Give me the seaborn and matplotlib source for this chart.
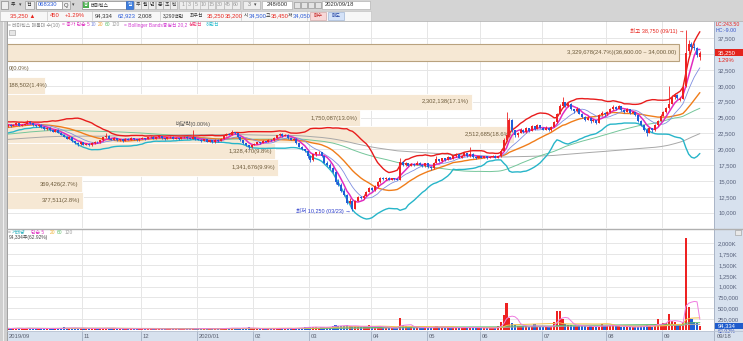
import numpy as np
import pandas as pd
import matplotlib
matplotlib.use("Agg")
import matplotlib.pyplot as plt
import seaborn as sns
from matplotlib import font_manager as fm
from matplotlib.patches import Rectangle
from matplotlib.lines import Line2D
from matplotlib.transforms import blended_transform_factory
from matplotlib.ticker import FixedLocator, FuncFormatter

# ---------------------------------------------------------------- data
holidays = ["2019-10-03", "2019-10-09", "2019-12-25", "2019-12-31", "2020-01-01",
            "2020-01-24", "2020-01-27", "2020-04-15", "2020-04-30", "2020-05-01",
            "2020-05-05", "2020-08-17"]

opens = [
    23700, 23850, 23650, 23900, 24100, 23750,
    23900, 24000, 24350, 24100, 23800, 23600, 23900, 23500, 23200, 23400, 23000, 22800, 23100, 22600, 22300, 22000, 21700, 21900, 21300, 21000, 20800,
    21100, 20700, 20900, 20600, 21000, 21200, 21100, 21400, 21900, 22100, 21700, 21500, 21800, 21400, 21600, 21300, 21700, 21500, 21800, 21600, 21400,
    21700, 21800, 21600, 21900, 22000, 21700, 21900, 22100, 21800, 21600, 21900, 22000, 21700, 21800, 21600, 21900, 22000, 21800, 21700, 21900,
    21600, 21500, 21300, 21600, 21200, 21400, 21100, 21500, 21300, 21700, 22100, 22400, 22300, 22700, 22500, 21900, 21400, 21000, 20600, 20300,
    20700, 20900, 21100, 21000, 21300, 21200, 21500, 21400, 21800, 22200, 22400, 22100, 22300, 21800, 21500, 21700, 21000, 20400, 20000, 19700,
    18900, 18300, 19200, 19500, 19600, 18900, 17900, 17600, 17100, 16400, 14900, 14400, 13500, 12800, 11600, 11900, 10600, 11900, 12400, 12300, 12700, 13300,
    13900, 13600, 14200, 14800, 15400, 15300, 15500, 15200, 15400, 15300, 15200, 18000, 17500, 17800, 17400, 17700, 17500, 17900, 17600, 17300,
    17800, 17200, 17000, 17900, 18400, 18100, 18600, 18300, 18800, 18500, 18900, 19200, 18700, 19000, 19400, 18900, 19300, 18800, 18600,
    18900, 18700, 18900, 18600, 18800, 19000, 18700, 18900, 19800, 21400, 22300, 24600, 23000, 22200, 22600, 23100, 22700, 23300, 22900, 23600, 23200, 23800,
    23400, 23100, 23400, 23000, 23500, 24300, 25600, 26900, 27400, 26800, 27200, 26300, 26000, 26400, 25600, 25100, 24700, 25000, 24400, 24600, 24200, 25400, 25800,
    25500, 25900, 26300, 26700, 26400, 26800, 26200, 25900, 26300, 25700, 25900, 25400, 24500, 23800, 23100, 22600, 23300, 23000, 23800, 24500,
    25300, 25900, 26500, 27200, 28200, 28600, 27800, 28000, 30000, 35500, 36600, 36100, 36000, 34500,
]
highs = [
    24000, 23950, 24050, 24300, 24150, 24000,
    24200, 24550, 24400, 24150, 23900, 24000, 23950, 23600, 23550, 23450, 23100, 23250, 23150, 22700, 22350, 22050, 22050, 21950, 21350, 21100, 21200,
    21150, 21000, 20950, 21100, 21300, 21250, 21500, 22000, 22600, 22200, 21800, 21900, 21850, 21700, 21650, 21800, 21750, 21900, 21850, 21650, 21800,
    21900, 21850, 22000, 22100, 22050, 22000, 22200, 22150, 21850, 22000, 22100, 22050, 21900, 21850, 22000, 22100, 22050, 21850, 23000, 21950,
    21700, 21550, 21700, 21650, 21500, 21450, 21600, 21550, 21800, 22200, 22500, 22500, 23000, 22800, 22550, 21950, 21450, 21050, 20700, 20800,
    21000, 21200, 21150, 21400, 21350, 21600, 21550, 21900, 22300, 22600, 22500, 22400, 22350, 21850, 21800, 21750, 21050, 20500, 20100, 19750,
    19000, 19300, 19600, 19700, 19650, 18950, 18200, 17800, 17200, 16500, 15300, 14700, 13900, 12900, 12300, 12000, 12000, 12600, 12700, 12900, 13500, 14100,
    14000, 14400, 15000, 15700, 15600, 15700, 15600, 15500, 15450, 15400, 18600, 18200, 18000, 17900, 17900, 17800, 18100, 18000, 17700, 17900,
    17850, 17300, 18000, 18900, 18500, 18700, 18650, 18900, 18850, 19000, 19400, 19250, 19100, 19600, 19450, 20400, 19350, 18900, 19000,
    18950, 19000, 18950, 18900, 19100, 19050, 19000, 20000, 21800, 25900, 25000, 24800, 23100, 22800, 23300, 23200, 23500, 23350, 23800, 23700, 24000, 23850,
    23450, 23600, 23450, 23700, 24500, 25800, 27200, 28300, 27500, 27500, 27300, 26400, 26600, 26450, 25700, 25200, 25200, 25050, 24800, 24700, 25600, 26000, 25900,
    26100, 26500, 27000, 26800, 27000, 26850, 26300, 26500, 26350, 26100, 25950, 25450, 24600, 23900, 23300, 23500, 23400, 24000, 24700, 25500,
    26100, 26700, 30000, 28500, 28900, 28700, 28300, 30300, 38750, 37200, 37000, 36700, 36200, 35450,
]
lows = [
    23550, 23500, 23600, 23850, 23650, 23600,
    23800, 23950, 24000, 23700, 23450, 23550, 23400, 23000, 23100, 22900, 22700, 22750, 22500, 22200, 21900, 21600, 21650, 21200, 20900, 20450, 20700,
    20600, 20650, 20500, 20550, 20900, 21000, 21050, 21350, 21850, 21600, 21400, 21450, 21300, 21350, 21200, 21250, 21400, 21450, 21500, 21300, 21350,
    21600, 21500, 21550, 21850, 21600, 21650, 21850, 21700, 21500, 21550, 21850, 21600, 21650, 21500, 21550, 21850, 21700, 21600, 21650, 21500,
    21400, 21200, 21250, 21100, 21150, 21000, 21050, 21200, 21250, 21650, 22050, 22200, 22250, 22400, 21800, 21300, 20900, 20500, 20000, 20250,
    20600, 20850, 20900, 20950, 21100, 21150, 21300, 21350, 21750, 22150, 22000, 22050, 21700, 21400, 21450, 20900, 20300, 19900, 19600, 18700,
    18000, 18200, 19000, 19200, 18800, 17800, 17400, 16900, 16200, 14600, 14200, 13300, 12600, 11400, 11300, 10250, 10600, 11800, 12100, 12200, 12600, 13200,
    13400, 13500, 14100, 14700, 15100, 15200, 15100, 15100, 15200, 15100, 15150, 17300, 17400, 17300, 17350, 17400, 17450, 17500, 17200, 17250,
    17100, 16800, 16950, 17850, 18000, 18050, 18200, 18250, 18400, 18450, 18850, 18600, 18650, 18950, 18800, 18850, 18700, 18500, 18550,
    18600, 18650, 18500, 18550, 18750, 18600, 18650, 18850, 19700, 21300, 22000, 22800, 22000, 22000, 22500, 22600, 22650, 22800, 22850, 23100, 23150, 23300,
    23000, 23050, 22900, 22950, 23450, 24200, 25500, 26700, 26600, 26700, 26200, 25800, 25900, 25500, 25000, 24500, 24650, 24200, 24300, 24000, 24150, 25300, 25300,
    25400, 25800, 26200, 26200, 26300, 26000, 25700, 25850, 25600, 25650, 25200, 24300, 23600, 22900, 22100, 22500, 22800, 22950, 23700, 24400,
    25200, 25800, 26400, 27100, 28000, 27900, 27600, 27900, 29800, 35000, 35800, 35600, 34600, 34050,
]
closes = [
    23800, 23650, 23900, 24100, 23750, 23900,
    24000, 24350, 24100, 23800, 23600, 23900, 23500, 23200, 23400, 23000, 22800, 23100, 22600, 22300, 22000, 21700, 21900, 21300, 21000, 20800, 21100,
    20700, 20900, 20600, 21000, 21200, 21100, 21400, 21900, 22100, 21700, 21500, 21800, 21400, 21600, 21300, 21700, 21500, 21800, 21600, 21400, 21700,
    21800, 21600, 21900, 22000, 21700, 21900, 22100, 21800, 21600, 21900, 22000, 21700, 21800, 21600, 21900, 22000, 21800, 21700, 21900, 21600,
    21500, 21300, 21600, 21200, 21400, 21100, 21500, 21300, 21700, 22100, 22400, 22300, 22700, 22500, 21900, 21400, 21000, 20600, 20300, 20700,
    20900, 21100, 21000, 21300, 21200, 21500, 21400, 21800, 22200, 22400, 22100, 22300, 21800, 21500, 21700, 21000, 20400, 20000, 19700, 18900,
    18300, 19200, 19500, 19600, 18900, 17900, 17600, 17100, 16400, 14900, 14400, 13500, 12800, 11600, 11900, 10600, 11900, 12400, 12300, 12700, 13300, 13900,
    13600, 14200, 14800, 15400, 15300, 15500, 15200, 15400, 15300, 15200, 18000, 17500, 17800, 17400, 17700, 17500, 17900, 17600, 17300, 17800,
    17200, 17000, 17900, 18400, 18100, 18600, 18300, 18800, 18500, 18900, 19200, 18700, 19000, 19400, 18900, 19300, 18800, 18600, 18900,
    18700, 18900, 18600, 18800, 19000, 18700, 18900, 19800, 21400, 22300, 24600, 23000, 22200, 22600, 23100, 22700, 23300, 22900, 23600, 23200, 23800, 23400,
    23100, 23400, 23000, 23500, 24300, 25600, 26900, 27400, 26800, 27200, 26300, 26000, 26400, 25600, 25100, 24700, 25000, 24400, 24600, 24200, 25400, 25800, 25500,
    25900, 26300, 26700, 26400, 26800, 26200, 25900, 26300, 25700, 25900, 25400, 24500, 23800, 23100, 22600, 23300, 23000, 23800, 24500, 25300,
    25900, 26500, 27200, 28200, 28600, 28100, 28000, 29900, 35200, 36600, 36100, 36000, 34800, 35250,
]
volumes = [
    32000, 28000, 35000, 41000, 30000, 26000,
    29000, 45000, 33000, 27000, 25000, 31000, 28000, 34000, 26000, 30000, 29000, 24000, 37000, 35000, 55000, 48000, 30000, 42000, 39000, 44000, 33000,
    36000, 28000, 30000, 34000, 31000, 22000, 29000, 46000, 52000, 33000, 27000, 25000, 24000, 23000, 21000, 26000, 22000, 25000, 20000, 19000, 23000,
    21000, 18000, 22000, 20000, 19000, 23000, 25000, 18000, 17000, 22000, 21000, 19000, 18000, 17000, 20000, 22000, 19000, 16000, 38000, 21000,
    26000, 34000, 24000, 22000, 21000, 20000, 24000, 22000, 30000, 41000, 45000, 28000, 52000, 33000, 39000, 37000, 42000, 48000, 55000, 31000,
    27000, 25000, 22000, 26000, 21000, 24000, 20000, 31000, 38000, 45000, 29000, 27000, 36000, 30000, 25000, 48000, 52000, 47000, 58000, 66000,
    72000, 65000, 58000, 49000, 61000, 70000, 62000, 75000, 88000, 115000, 92000, 86000, 95000, 105000, 78000, 84000, 96000, 80000, 68000, 72000, 74000, 100000,
    62000, 70000, 78000, 85000, 55000, 48000, 44000, 40000, 38000, 42000, 265000, 120000, 80000, 65000, 58000, 52000, 60000, 48000, 45000, 55000,
    58000, 50000, 72000, 85000, 55000, 48000, 42000, 56000, 44000, 50000, 62000, 45000, 48000, 58000, 47000, 72000, 50000, 40000, 44000,
    42000, 45000, 38000, 40000, 44000, 41000, 80000, 180000, 350000, 620000, 270000, 160000, 110000, 85000, 95000, 78000, 90000, 70000, 85000, 130000, 75000, 68000,
    66000, 72000, 58000, 85000, 180000, 430000, 430000, 250000, 140000, 120000, 110000, 95000, 88000, 100000, 92000, 80000, 70000, 85000, 72000, 68000, 75000, 135000, 90000,
    88000, 95000, 110000, 78000, 92000, 70000, 65000, 72000, 60000, 58000, 55000, 75000, 90000, 85000, 110000, 95000, 70000, 88000, 250000, 120000,
    150000, 160000, 365000, 210000, 170000, 120000, 110000, 188502, 2130000, 520000, 250000, 190000, 149927, 94334,
]
# closes before the visible window (needed for the 20/60/120-day lines at the left edge)
pre_closes = [
    20100, 20300, 19900, 20200, 20500, 20400, 20800, 20600, 20300, 20000,
    19800, 20100, 20400, 20700, 20900, 21200, 21000, 20800, 20500, 20700,
    20900, 21100, 21400, 21300, 21000, 20800, 20600, 20400, 20700, 20900,
    21200, 21500, 21300, 21000, 20700, 20500, 20300, 20600, 20800, 21000,
    20700, 20400, 20200, 20500, 20800, 21100, 21000, 20700, 20500, 20800,
    21000, 21300, 21100, 20900, 20600, 20800, 21100, 20900, 20700, 21000,
    21000, 21200, 21400, 21100, 21300, 21600, 21400, 21200, 21500, 21700,
    21500, 21300, 21600, 21900, 21700, 21500, 21800, 22000, 21800, 21600,
    21900, 22100, 21900, 21700, 22000, 22200, 22000, 21800, 22100, 22300,
    22100, 22400, 22200, 22000, 22300, 22500, 22300, 22100, 22400, 22600,
    22400, 22700, 22900, 22600, 22900, 23200, 23000, 23300, 23500, 23200,
    23500, 23700, 23500, 23800, 24000, 23700, 23900, 24200, 23900, 23700,
]

month_keys = ["2019-09", "2019-11", "2019-12", "2020-01", "2020-02", "2020-03",
              "2020-04", "2020-05", "2020-06", "2020-07", "2020-08", "2020-09"]
month_labels = ["2019/09", "11", "12", "2020/01", "02", "03", "04", "05", "06", "07", "08", "09"]
price_ticks = [10000, 12500, 15000, 17500, 20000, 22500, 25000, 27500, 30000, 32500, 35000, 37500]
vol_ticks = [250000, 500000, 750000, 1000000, 1250000, 1500000, 1750000, 2000000]

band_edges = [10600, 13200, 15800, 18400, 21000, 23600, 26200, 28800, 31400, 34000, 36600]
band_volumes = [377511, 369426, 1341676, 1328470, 2512685, 1750087, 2302138, 188502, 0, 3329678]
band_pcts = [2.8, 2.7, 9.9, 9.8, 18.6, 13.0, 17.1, 1.4, 0.0, 24.7]

last_close, last_change, last_pct = 35250, 450, 1.29
last_volume, vol_ratio = 94334, 62.92
high_label = "최고 38,750 (09/11) →"
low_label = "최저 10,250 (03/23) →"
div_label = "배당락(0.00%)"

# ---------------------------------------------------------------- frame
dates = pd.bdate_range("2019-09-23", "2020-09-18")
dates = dates[~dates.isin(pd.to_datetime(holidays))]
n = len(closes)
assert len(opens) == len(highs) == len(lows) == len(volumes) == n == len(dates), \
    (len(opens), len(highs), len(lows), len(closes), len(volumes), len(dates))

df = pd.DataFrame({"date": dates, "open": opens, "high": highs, "low": lows,
                   "close": closes, "volume": volumes})
df["i"] = np.arange(n)
full = pd.Series(pre_closes + closes, dtype=float)
for w in (5, 10, 20, 60, 120):
    df[f"ma{w}"] = full.rolling(w, min_periods=1).mean().iloc[-n:].values
mid = full.rolling(20).mean()
sd = full.rolling(20).std(ddof=0)
df["bb_up"] = (mid + 2 * sd).iloc[-n:].values
df["bb_lo"] = (mid - 2 * sd).iloc[-n:].values
vs = pd.Series(volumes, dtype=float)
for w in (5, 20, 60, 120):
    df[f"v{w}"] = vs.rolling(w, min_periods=1).mean().values

ym = df["date"].dt.strftime("%Y-%m")
month_pos = [int(np.argmax(ym.values == k)) for k in month_keys]

# ---------------------------------------------------------------- style
sns.set_theme(style="white")


def has_font(name):
    try:
        fm.findfont(fm.FontProperties(family=name), fallback_to_default=False)
        return True
    except Exception:
        return False


narrow = has_font("Liberation Sans Narrow")
NUM = "Liberation Sans Narrow" if narrow else "Liberation Sans"
KR = "Noto Sans CJK KR"
plt.rcParams["font.family"] = [NUM, KR, "DejaVu Sans"]
SN = 4.9 if narrow else 4.2      # numbers
SK = 4.0                          # chart annotations
SL = 3.5                          # legend / toolbar Korean

RED, BLUE = "#ee2222", "#1f5fd8"
GRID = "#e6e6e6"
PANEL = "#d7e1ee"

W, H = 743, 341
fig = plt.figure(figsize=(W / 100, H / 100), dpi=100)
fig.patch.set_facecolor("white")


def arect(x0, y0, x1, y1):
    return [x0 / W, 1 - y1 / H, (x1 - x0) / W, (y1 - y0) / H]


def frect(x0, y0, x1, y1, fc, ec="none", lw=0.6, z=-5):
    fig.add_artist(Rectangle((x0 / W, 1 - y1 / H), (x1 - x0) / W, (y1 - y0) / H,
                             transform=fig.transFigure, facecolor=fc, edgecolor=ec,
                             linewidth=lw, zorder=z))


def fline(x0, y0, x1, y1, c, lw=0.8, z=6):
    fig.add_artist(Line2D([x0 / W, x1 / W], [1 - y0 / H, 1 - y1 / H],
                          transform=fig.transFigure, color=c, lw=lw, zorder=z))


def ftext(x, y, s, c="#333333", size=SL, ha="left", weight="normal", z=8):
    fig.text(x / W, 1 - y / H, s, color=c, fontsize=size, ha=ha, va="center",
             fontweight=weight, zorder=z)


XL = (-0.27, 252.05)
YL = (7587, 40237)
VL = (-28000, 2333000)

axg = fig.add_axes(arect(7, 21, 714, 228), label="grid")
axp = fig.add_axes(arect(7, 21, 714, 228), label="profile")
ax = fig.add_axes(arect(7, 21, 714, 228), label="price")
axv = fig.add_axes(arect(7, 229, 714, 331), label="volume")
axd = fig.add_axes(arect(7, 331, 714, 341), label="dates")

for a in (axg, axp, ax, axv, axd):
    for s in a.spines.values():
        s.set_visible(False)
    a.set_xticks([])
    a.set_yticks([])
axp.patch.set_visible(False)
ax.patch.set_visible(False)
axg.set_facecolor("white")
axv.set_facecolor("white")
axd.set_facecolor(PANEL)

# grid
axg.set_xlim(*XL)
axg.set_ylim(*YL)
for t in price_ticks:
    axg.axhline(t, color=GRID, lw=0.7)
for m in month_pos[1:]:
    axg.axvline(m - 0.5, color=GRID, lw=0.7)
axv.set_xlim(*XL)
axv.set_ylim(*VL)
for t in vol_ticks:
    axv.axhline(t, color=GRID, lw=0.7, zorder=0)
for m in month_pos[1:]:
    axv.axvline(m - 0.5, color=GRID, lw=0.7, zorder=0)

# volume-at-price profile (매물대)
axp.set_ylim(*YL)
vmax = max(band_volumes)
axp.set_xlim(0, vmax / 0.9505)
cur_band = len(band_volumes) - 1
for k, (v, p) in enumerate(zip(band_volumes, band_pcts)):
    lo, hi = band_edges[k], band_edges[k + 1]
    ec = "#b9a27e" if k == cur_band else "white"
    axp.barh(lo, v, height=hi - lo, align="edge", color="#f6e8d4", edgecolor=ec,
             linewidth=0.8 if k == cur_band else 0.6)
    lab = f"{v:,}({p:.1f}%)"
    if k == cur_band:
        lab += f"({hi:,.2f} ~ {lo:,.2f})"
    frac = v / axp.get_xlim()[1]
    if frac * 707 > 50:
        axp.annotate(lab, xy=(v, (lo + hi) / 2), xytext=(-3, 0), textcoords="offset pixels",
                     ha="right", va="center", fontsize=SN, color="#6d5b3b")
    else:
        axp.annotate(lab, xy=(0, (lo + hi) / 2), xytext=(2, 0), textcoords="offset pixels",
                     ha="left", va="center", fontsize=SN, color="#6d5b3b")

# candles and indicator lines
up = df["close"] >= df["open"]
ccol = np.where(up, RED, BLUE)
body = np.maximum((df["close"] - df["open"]).abs(), 60)
bottom = np.minimum(df["open"], df["close"])
line_specs = [("ma120", "#a8a8a8", 0.7), ("ma60", "#74c69a", 0.7),
              ("bb_lo", "#27b5c9", 1.0), ("bb_up", "#e81c1c", 1.0),
              ("ma20", "#f07d1a", 1.0), ("ma10", "#7f8ee0", 0.6),
              ("ma5", "#e02cc0", 1.1)]
for col, c, lw in line_specs:
    sns.lineplot(data=df, x="i", y=col, ax=ax, color=c, linewidth=lw, legend=False, zorder=2)
ax.vlines(df["i"], df["low"], df["high"], colors=ccol, lw=0.6, zorder=3)
ax.bar(df["i"], body, bottom=bottom, width=0.72, color=ccol, linewidth=0, zorder=4)
ax.set_xlim(*XL)
ax.set_ylim(*YL)
ax.set_xlabel("")
ax.set_ylabel("")

ihi = int(df["high"].idxmax())
ilo = int(df["low"].idxmin())
ax.annotate(high_label, xy=(df["i"][ihi], df["high"][ihi]), xytext=(-1, -1),
            textcoords="offset pixels", ha="right", va="center", fontsize=SK, color="#e8261e")
ax.annotate(low_label, xy=(df["i"][ilo], df["low"][ilo]), xytext=(-2, 0),
            textcoords="offset pixels", ha="right", va="center", fontsize=SK, color="#2b3ccc")
idiv = int(np.argmax(df["date"].values == np.datetime64("2019-12-27")))
ax.annotate(div_label, xy=(idiv, df["high"][idiv]), xytext=(0, 3), textcoords="offset pixels",
            ha="center", va="bottom", fontsize=SK, color="#555555")

# right price scale (the label under the current-price box is hidden, as in the HTS)
ax.yaxis.tick_right()
ax.yaxis.set_major_locator(FixedLocator(price_ticks))
ax.yaxis.set_major_formatter(FuncFormatter(
    lambda v, _: "" if abs(v - last_close) < 1250 else f"{v:,.0f}"))
ax.tick_params(axis="y", length=0, pad=3, labelsize=SN, labelcolor="#56607a")

bt = blended_transform_factory(ax.transAxes, ax.transData)
ax.add_patch(Rectangle((1.0, last_close - 560), 29 / 707, 1120, transform=bt,
                       facecolor="#e3241c", edgecolor="none", clip_on=False, zorder=10))
ax.annotate(f"{last_close:,}", xy=(1.0, last_close), xycoords=bt, xytext=(4, 0),
            textcoords="offset pixels", ha="left", va="center", fontsize=SN,
            color="white", annotation_clip=False, zorder=11)
ax.annotate(f"{last_pct:.2f}%", xy=(1.0, last_close), xycoords=bt, xytext=(4, -8),
            textcoords="offset pixels", ha="left", va="center", fontsize=SN,
            color="#e3241c", annotation_clip=False, zorder=11)

# volume panel
axv.bar(df["i"], df["volume"], width=0.78, color=ccol, linewidth=0, zorder=3)
for col, c in [("v120", "#a8a8a8"), ("v60", "#5cbf6a"), ("v20", "#f2c04a"), ("v5", "#ee7ce0")]:
    sns.lineplot(data=df, x="i", y=col, ax=axv, color=c, linewidth=0.7, legend=False, zorder=4)
axv.set_xlim(*XL)
axv.set_ylim(*VL)
axv.set_xlabel("")
axv.set_ylabel("")
axv.yaxis.tick_right()
axv.yaxis.set_major_locator(FixedLocator(vol_ticks))
axv.yaxis.set_major_formatter(FuncFormatter(
    lambda v, _: f"{v / 1000:,.0f}K" if v >= 1000000 else f"{v:,.0f}"))
axv.tick_params(axis="y", length=0, pad=3, labelsize=SN, labelcolor="#56607a")
bv = blended_transform_factory(axv.transAxes, axv.transData)
axv.add_patch(Rectangle((1.0, last_volume - 65000), 29 / 707, 130000, transform=bv,
                        facecolor="#1f5ccc", edgecolor="none", clip_on=False, zorder=10))
axv.annotate(f"{last_volume:,}", xy=(1.0, last_volume), xycoords=bv, xytext=(4, 0),
             textcoords="offset pixels", ha="left", va="center", fontsize=SN,
             color="white", annotation_clip=False, zorder=11)
axv.annotate(f"{vol_ratio:.2f}%", xy=(1.0, last_volume), xycoords=bv, xytext=(4, -6),
             textcoords="offset pixels", ha="left", va="center", fontsize=SN * 0.9,
             color="#3a56b8", annotation_clip=False, zorder=11)

# date strip
axd.set_xlim(*XL)
axd.set_ylim(0, 1)
for m, lab in zip(month_pos, month_labels):
    if m > 0:
        axd.axvline(m - 0.5, color="#aab6c8", lw=0.7)
    axd.annotate(lab, xy=(max(m - 0.5, XL[0]), 0.5), xytext=(2, 0), textcoords="offset pixels",
                 ha="left", va="center", fontsize=SN, color="#5a6070", annotation_clip=False)

# ---------------------------------------------------------------- chrome
frect(714, 21, 743, 341, PANEL)
fline(714, 21, 714, 341, "#a9b4c6", 0.7)
frect(0, 21, 7, 341, "#cfcfcf")
fline(3, 21, 3, 341, "#f2f2f2", 0.7)
fline(7, 21, 7, 341, "#a0a0a0", 0.7)
fline(7, 228.5, 743, 228.5, "#b0b0b0", 1.0)
fline(7, 331, 743, 331, "#b8c2d2", 0.6)
ftext(717, 336, pd.Timestamp(df["date"].iloc[-1]).strftime("%m/%d"), "#5a6070", SN)
ftext(716, 24.5, "LC:243.50", "#e8261e", SN * 0.9)
ftext(716, 30, "HC:-9.00", "#3a56c8", SN * 0.9)
frect(735, 229.5, 741, 234.5, "#e8e8e8", "#999999", 0.4, z=7)
frect(9, 30, 15, 35, "#e6e6e6", "#9a9a9a", 0.4, z=7)

# legend rows
ftext(8, 25, "= 테마틱스 매물대 수(10)", "#8a8a8a")
ftext(62, 25, "= 종가 단순 5", "#e03cc4")
ftext(91, 25, "10", "#7f8ee0")
ftext(98, 25, "20", "#f0a030")
ftext(105, 25, "60", "#5cbf6a")
ftext(112, 25, "120", "#a0a0a0")
ftext(124, 25, "= Bollinger Bands중심선 20,2", "#d23cd2")
ftext(189, 25, "상한선", "#f0407a")
ftext(206, 25, "하한선", "#2cbfd0")
ftext(8, 232.5, "=", "#8a8a8a")
ftext(12, 232.5, "거래량", "#33b3c0")
ftext(31, 232.5, "단순 5", "#e03cc4")
ftext(50, 232.5, "20", "#f0b030")
ftext(57, 232.5, "60", "#5cbf6a")
ftext(65, 232.5, "120", "#a0a0a0")
ftext(9, 237, f"{last_volume:,}주({vol_ratio:.2f}%)", "#444444")

# toolbar
frect(0, 0, 743, 21, "#d4d4d4")
frect(0, 10.5, 371, 20.5, "#f7f7f7", "#c4c4c4", 0.5, z=-4)
frect(1, 1, 8, 9, "#eeeeee", "#8a8a8a", 0.5, z=-4)
ftext(11, 5, "주", "#222222")
ftext(19, 5, "▾", "#444444", 3.5)
frect(25, 1, 34, 9, "#eeeeee", "#9a9a9a", 0.5, z=-4)
ftext(27, 5, "전", "#222222")
frect(36, 1, 62, 9, "white", "#8a8a8a", 0.5, z=-4)
ftext(38, 5, "068330", "#2a5ad8", SN)
frect(62, 1, 70, 9, "#eeeeee", "#9a9a9a", 0.5, z=-4)
ftext(64, 5, "Q", "#444444", SN)
ftext(72, 5, "▾", "#444444", 3.5)
frect(82, 1, 126, 9, "white", "#8a8a8a", 0.5, z=-4)
frect(83, 2, 89, 8, "#4caf50", "none", z=-3)
ftext(84, 5, "종", "white", 3.2)
ftext(91, 5, "테마틱스", "#222222")
frect(126, 1, 133, 9, "#3d7fe0", "#3568c0", 0.5, z=-4)
ftext(127.5, 5, "일", "white")
for xx, s in [(134, "주"), (141, "월"), (148, "년"), (156, "분"), (163, "초"), (170, "틱")]:
    frect(xx, 1, xx + 7, 9, "#eeeeee", "#a8a8a8", 0.4, z=-4)
    ftext(xx + 1.3, 5, s, "#333333")
for xx, s in [(179, "1"), (186, "3"), (193, "5"), (200, "10"), (208, "15"), (216, "30"),
              (224, "45"), (232, "60")]:
    frect(xx, 1, xx + 7.5, 9, "#eeeeee", "#b0b0b0", 0.4, z=-4)
    ftext(xx + 3.75, 5, s, "#9a9a9a", SN * 0.9, ha="center")
frect(243, 1, 260, 9, "#eeeeee", "#a8a8a8", 0.4, z=-4)
ftext(248, 5, "3", "#777777", SN * 0.9)
ftext(254, 5, "▾", "#444444", 3.5)
frect(262, 1, 292, 9, "white", "#a8a8a8", 0.4, z=-4)
ftext(277, 5, f"{n}/600", "#333333", SN, ha="center")
for xx in (294, 301, 308, 315):
    frect(xx, 2, xx + 6, 8, "#e4e4e4", "#8a8a8a", 0.4, z=-4)
frect(322, 1, 370, 9, "white", "#a8a8a8", 0.4, z=-4)
ftext(325, 5, pd.Timestamp(df["date"].iloc[-1]).strftime("%Y/%m/%d"), "#333333", SN)

ftext(10, 15.5, f"{last_close:,} ▲", "#e8261e", SN)
ftext(50, 15.5, f"{last_change:,}", "#e8261e", SN)
ftext(65, 15.5, f"+{last_pct:.2f}%", "#e8261e", SN)
ftext(95, 15.5, f"{last_volume:,}", "#333333", SN)
ftext(118, 15.5, "62,923", "#2a5ad8", SN)
ftext(138, 15.5, "2,008", "#333333", SN)
ftext(163, 15.5, "3,290백만", "#333333")
ftext(190, 15.5, "최우선", "#333333")
ftext(207, 15.5, "35,250", "#e8261e", SN)
ftext(225, 15.5, "35,200", "#e8261e", SN)
ftext(244, 15.5, "시", "#333333")
ftext(249, 15.5, "34,500", "#2a5ad8", SN)
ftext(266, 15.5, "고", "#333333")
ftext(271, 15.5, "35,450", "#e8261e", SN)
ftext(288, 15.5, "저", "#333333")
ftext(293, 15.5, "34,050", "#2a5ad8", SN)
frect(310, 11.5, 326, 19.5, "#f8d8d8", "#c89898", 0.4, z=-3)
ftext(318, 15.5, "매수", "#c02020", ha="center")
frect(328, 11.5, 344, 19.5, "#d4e2f8", "#90a8cc", 0.4, z=-3)
ftext(336, 15.5, "매도", "#2040a0", ha="center")
for xx in (47, 92, 160, 241, 307):
    fline(xx, 11, xx, 20, "#c8c8c8", 0.5, z=-2)
fline(0, 21, 743, 21, "#b4b4b4", 0.6)

fig.savefig("out.png", dpi=100, facecolor=fig.get_facecolor())
